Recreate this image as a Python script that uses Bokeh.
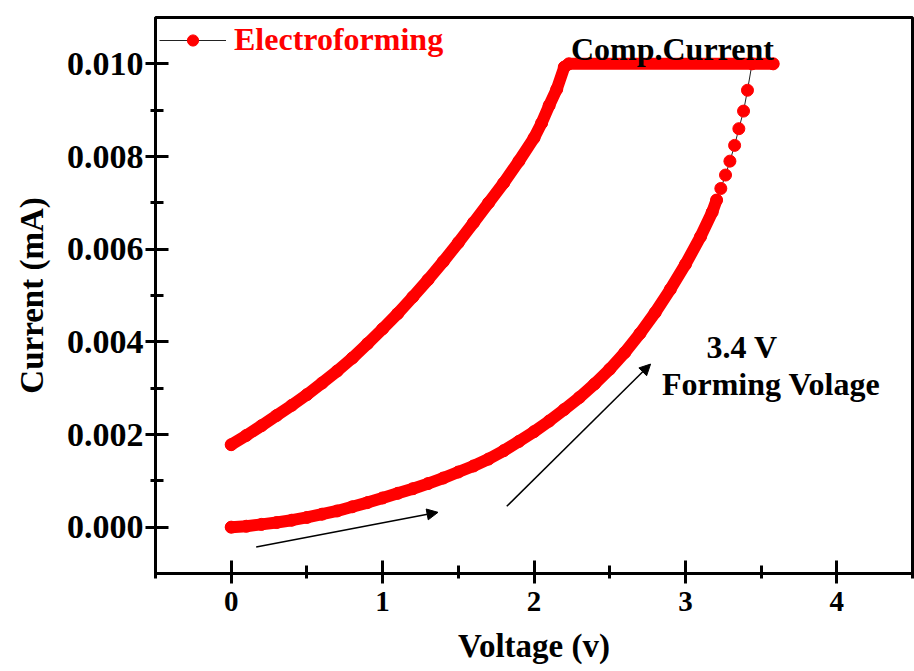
from bokeh.plotting import figure
from bokeh.models import (Range1d, FixedTicker, PrintfTickFormatter, Arrow, NormalHead,
                          Legend, LegendItem, Label)
from bokeh.embed import file_html
from bokeh.resources import INLINE

# ---- data ----
# forward sweep 0 V -> ~3.2 V (dense part)
v_fwd = [0.0, 0.1, 0.2, 0.3, 0.4, 0.5, 0.6, 0.7, 0.8, 0.9, 1.0, 1.1, 1.2, 1.3, 1.4, 1.5,
         1.6, 1.7, 1.8, 1.9, 2.0, 2.1, 2.2, 2.3, 2.4, 2.5, 2.6, 2.7, 2.8, 2.9, 3.0, 3.1,
         3.177, 3.206]
i_fwd = [0.0, 0.00002, 0.00006, 0.0001, 0.00015, 0.00021, 0.00028, 0.00035, 0.00044,
         0.00053, 0.00063, 0.00073, 0.00083, 0.00094, 0.00106, 0.00119, 0.00132, 0.00147,
         0.00165, 0.00185, 0.00206, 0.00229, 0.00254, 0.00280, 0.00309, 0.00341, 0.00377,
         0.00418, 0.00463, 0.00513, 0.00567, 0.00627, 0.0068, 0.00706]
# forming jump (separated points)
v_jump = [3.234, 3.265, 3.294, 3.325, 3.353, 3.384, 3.41]
i_jump = [0.00731, 0.0076, 0.0079, 0.00824, 0.0086, 0.00898, 0.00943]
# compliance and reverse sweep back to 0 V
v_rev = [3.44, 3.58, 2.23, 2.2, 2.15, 2.1, 2.05, 2.0, 1.9, 1.8, 1.7, 1.6, 1.5, 1.4, 1.3,
         1.2, 1.1, 1.0, 0.9, 0.8, 0.7, 0.6, 0.5, 0.4, 0.3, 0.2, 0.1, 0.0]
i_rev = [0.010, 0.010, 0.010, 0.00993, 0.00945, 0.0091, 0.00872, 0.0084, 0.0079, 0.00743,
         0.007, 0.00657, 0.00614, 0.00573, 0.00534, 0.00497, 0.00461, 0.00428, 0.00396,
         0.00365, 0.00337, 0.00311, 0.00286, 0.00263, 0.00241, 0.00219, 0.00198, 0.00178]

x_ticks = [0, 1, 2, 3, 4]
x_minor = [-0.5, 0.5, 1.5, 2.5, 3.5, 4.5]
y_ticks = [0.0, 0.002, 0.004, 0.006, 0.008, 0.010]
y_minor = [0.001, 0.003, 0.005, 0.007, 0.009]

series_label = "Electroforming"
RED = "#ff0000"
FONT = "Liberation Serif"

p = figure(width=914, height=671, output_backend="svg", toolbar_location=None,
           title=None,
           x_range=Range1d(-0.5, 4.5), y_range=Range1d(-0.001, 0.011),
           min_border_left=155, min_border_right=2, min_border_top=17,
           min_border_bottom=98)
p.xgrid.visible = False
p.ygrid.visible = False
p.background_fill_color = "white"
p.border_fill_color = "white"
p.outline_line_color = "black"
p.outline_line_width = 3
p.outline_line_alpha = 1.0

for ax in (p.xaxis[0], p.yaxis[0]):
    ax.axis_line_width = 3
    ax.axis_line_color = "black"
    ax.major_tick_line_width = 3
    ax.minor_tick_line_width = 3
    ax.major_tick_line_color = "black"
    ax.minor_tick_line_color = "black"
    ax.major_tick_in = 13
    ax.major_tick_out = 10
    ax.minor_tick_in = 8
    ax.minor_tick_out = 5
    ax.major_label_text_font = FONT
    ax.major_label_text_font_style = "bold"
    ax.major_label_text_color = "black"
    ax.axis_label_text_font = FONT
    ax.axis_label_text_font_style = "bold"
    ax.axis_label_text_font_size = "33px"
    ax.axis_label_text_color = "black"

p.xaxis.ticker = FixedTicker(ticks=x_ticks, minor_ticks=x_minor)
p.yaxis.ticker = FixedTicker(ticks=y_ticks, minor_ticks=y_minor)
p.yaxis.formatter = PrintfTickFormatter(format="%.3f")
p.xaxis.major_label_text_font_size = "29px"
p.yaxis.major_label_text_font_size = "34px"
p.xaxis.major_label_standoff = 8
p.yaxis.major_label_standoff = 2
p.xaxis.axis_label = "Voltage (v)"
p.yaxis.axis_label = "Current (mA)"
p.xaxis.axis_label_standoff = 14
p.yaxis.axis_label_standoff = 14

# thin connecting line through the jump
v_link = [v_fwd[-1]] + v_jump + [v_rev[0]]
i_link = [i_fwd[-1]] + i_jump + [i_rev[0]]
thin = p.line(v_link, i_link, line_color="#222222", line_width=1)

# dense parts drawn as a thick band of overlapping points
p.line(v_fwd, i_fwd, line_color=RED, line_width=12, line_cap="round", line_join="round")
p.line(v_rev, i_rev, line_color=RED, line_width=12, line_cap="round", line_join="round")

v_all = v_fwd + v_jump + v_rev
i_all = i_fwd + i_jump + i_rev
pts = p.scatter(v_all, i_all, size=12, fill_color=RED, line_color=RED)

legend = Legend(items=[LegendItem(label=series_label, renderers=[thin, pts])],
                location="top_left", margin=0, padding=4, spacing=0,
                glyph_width=67, glyph_height=28, label_standoff=8,
                label_text_font=FONT, label_text_font_style="bold",
                label_text_font_size="32px", label_text_color=RED,
                border_line_alpha=0, background_fill_alpha=0)
p.add_layout(legend)

# arrows
p.add_layout(Arrow(end=NormalHead(size=11, fill_color="black", line_color="black"),
                   x_start=0.165, y_start=-0.00043, x_end=1.366, y_end=0.00032,
                   line_color="black", line_width=1.5))
p.add_layout(Arrow(end=NormalHead(size=11, fill_color="black", line_color="black"),
                   x_start=1.82, y_start=0.00045, x_end=2.77, y_end=0.00352,
                   line_color="black", line_width=1.5))

# annotations
def add_label(x, y, text):
    p.add_layout(Label(x=x, y=y, text=text, text_font=FONT, text_font_style="bold",
                       text_font_size="32px", text_color="black",
                       text_align="left", text_baseline="alphabetic"))

add_label(2.244, 0.01032, "Comp.Current")
add_label(3.14, 0.00389, "3.4 V")
add_label(2.845, 0.00309, "Forming Volage")

open("out.html", "w").write(file_html(p, INLINE))
